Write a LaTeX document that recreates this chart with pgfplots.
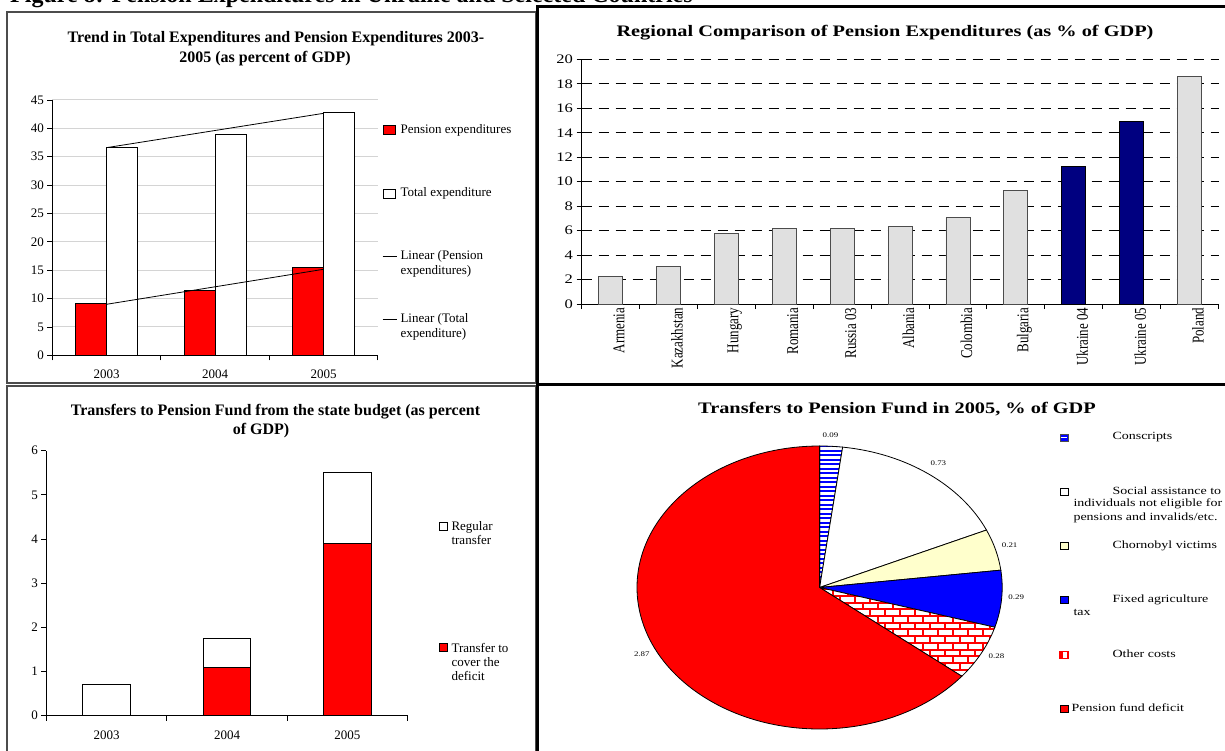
\documentclass[border=0pt]{standalone}
\usepackage{fontspec}
\setmainfont{Liberation Serif}
\usepackage{pgfplots}
\pgfplotsset{compat=1.18}
\usetikzlibrary{patterns}
\definecolor{barGray}{HTML}{E0E0E0}
\definecolor{navyB}{HTML}{000080}
\definecolor{lightYel}{HTML}{FFFFCC}
\definecolor{gridGray}{HTML}{D4D4D4}
\pgfdeclarepatternformonly{mystripes}{\pgfqpoint{-1pt}{-1pt}}{\pgfqpoint{5.5pt}{5.5pt}}{\pgfqpoint{4.5pt}{4.5pt}}{%
  \pgfsetlinewidth{2.3pt}%
  \pgfpathmoveto{\pgfqpoint{-1pt}{2.25pt}}\pgfpathlineto{\pgfqpoint{5.5pt}{2.25pt}}\pgfusepath{stroke}}
\pgfdeclarepatternformonly{mybricks}{\pgfqpoint{-1pt}{-1pt}}{\pgfqpoint{16pt}{14.4pt}}{\pgfqpoint{15pt}{13.4pt}}{%
  \pgfsetlinewidth{2pt}%
  \pgfpathmoveto{\pgfqpoint{-1pt}{0pt}}\pgfpathlineto{\pgfqpoint{16pt}{0pt}}%
  \pgfpathmoveto{\pgfqpoint{-1pt}{6.7pt}}\pgfpathlineto{\pgfqpoint{16pt}{6.7pt}}%
  \pgfpathmoveto{\pgfqpoint{0pt}{0pt}}\pgfpathlineto{\pgfqpoint{0pt}{6.7pt}}%
  \pgfpathmoveto{\pgfqpoint{7.5pt}{6.7pt}}\pgfpathlineto{\pgfqpoint{7.5pt}{13.4pt}}%
  \pgfusepath{stroke}}
\tikzset{
  pieA/.style={draw=black, line width=0.8pt, preaction={fill=white}, pattern=mystripes, pattern color=blue},
  pieB/.style={draw=black, line width=0.8pt, fill=white},
  pieC/.style={draw=black, line width=0.8pt, fill=lightYel},
  pieD/.style={draw=black, line width=0.8pt, fill=blue},
  pieE/.style={draw=black, line width=0.8pt, preaction={fill=white}, pattern=mybricks, pattern color=red},
  pieF/.style={draw=black, line width=0.8pt, fill=red},
}
\pgfplotsset{every axis/.append style={font=\fontsize{13}{15}\selectfont},
  /pgf/number format/assume math mode=true}
\newcommand{\sx}[1]{\scalebox{1.27}[1]{#1}}
\newcommand{\sy}[1]{\scalebox{1}[1.27]{#1}}
\begin{document}
\begin{tikzpicture}[x=1pt,y=1pt]
\useasboundingbox (0pt,0pt) rectangle (1225pt,750pt);
% heading (cut off at top)
\node[anchor=base west, inner sep=0, font=\bfseries\fontsize{24}{28}\selectfont] at (10pt,747pt) {Figure 8: Pension Expenditures in Ukraine and Selected Countries};
% frames
\draw[line width=1.2pt, black!70] (7pt,738pt) rectangle (536pt,367pt);
\draw[line width=1.2pt, black!70] (7pt,364pt) rectangle (536pt,-5pt);
\draw[line width=3pt] (1230pt,743.5pt) -- (537.5pt,743.5pt) -- (537.5pt,-5pt);
\draw[line width=3pt] (537.5pt,365.5pt) -- (1230pt,365.5pt);

% ---------------- Top-left ----------------
\node[font=\bfseries\fontsize{16}{20}\selectfont] at (276pt,711.7pt) {Trend in Total Expenditures and Pension Expenditures 2003-};
\node[font=\bfseries\fontsize{16}{20}\selectfont] at (265pt,691.7pt) {2005 (as percent of GDP)};
\begin{axis}[at={(52.3pt,394.7pt)}, anchor=south west, scale only axis,
  width=325.5pt, height=255.3pt,
  xmin=-0.5, xmax=2.5, ymin=0, ymax=45, ytick={0,5,...,45},
  xtick={-0.5,0.5,1.5,2.5}, xticklabels={},
  extra x ticks={0,1,2}, extra x tick labels={2003,2004,2005},
  extra x tick style={major tick length=0pt, xticklabel style={yshift=-11pt}},
  axis x line*=bottom, axis y line*=left,
  tick align=outside, major tick length=5pt,
  axis line style={black, line width=0.8pt}, tick style={black, line width=0.8pt},
  ymajorgrids, major grid style={gridGray, line width=1pt}]
\addplot[ybar, bar width=31pt, bar shift=-15.5pt, fill=red, draw=black, line width=0.8pt] coordinates {(0,9.2) (1,11.45) (2,15.45)};
\addplot[ybar, bar width=31pt, bar shift=15.5pt, fill=white, draw=black, line width=0.8pt] coordinates {(0,36.7) (1,38.9) (2,42.9)};
\addplot[black, sharp plot, no marks, line width=0.8pt] coordinates {(0,8.99) (2,15.16)};
\addplot[black, sharp plot, no marks, line width=0.8pt] coordinates {(0,36.6) (2,42.65)};
\end{axis}
\begin{scope}[font=\fontsize{13}{15}\selectfont]
\filldraw[fill=red, draw=black, line width=0.8pt] (383pt,615.3pt) rectangle (395pt,624.3pt);
\node[anchor=west] at (397pt,619.3pt) {Pension expenditures};
\filldraw[fill=white, draw=black, line width=0.8pt] (383pt,551.8pt) rectangle (395pt,560.8pt);
\node[anchor=west] at (397pt,556.3pt) {Total expenditure};
\draw[line width=0.8pt] (382.5pt,493.3pt) -- (396.5pt,493.3pt);
\node[anchor=west, align=left] at (397pt,485.8pt) {Linear (Pension\\expenditures)};
\draw[line width=0.8pt] (382.5pt,430.7pt) -- (396.5pt,430.7pt);
\node[anchor=west, align=left] at (397pt,423.2pt) {Linear (Total\\expenditure)};
\end{scope}

% ---------------- Top-right ----------------
\node[font=\bfseries\fontsize{16}{20}\selectfont] at (885pt,717.3pt) {\sx{Regional Comparison of Pension Expenditures (as \% of GDP)}};
\begin{axis}[at={(581.5pt,445.9pt)}, anchor=south west, scale only axis,
  width=637pt, height=244.8pt,
  xmin=-0.5, xmax=10.5, ymin=0, ymax=20, ytick={0,2,...,20},
  yticklabel={\sx{\pgfmathprintnumber{\tick}}},
  xtick={-0.5,0.5,...,10.5}, xticklabels={},
  extra x ticks={0,1,...,10},
  extra x tick labels={\sy{Armenia},\sy{Kazakhstan},\sy{Hungary},\sy{Romania},\sy{Russia 03},\sy{Albania},\sy{Colombia},\sy{Bulgaria},\sy{Ukraine 04},\sy{Ukraine 05},\sy{Poland}},
  extra x tick style={major tick length=0pt, xticklabel style={rotate=90, anchor=east, yshift=-8.5pt}},
  axis x line*=bottom, axis y line*=left,
  tick align=outside, major tick length=5pt,
  axis line style={black, line width=0.8pt}, tick style={black, line width=0.8pt},
  ymajorgrids, major grid style={black, line width=1.1pt, dash pattern=on 10pt off 7pt}]
\addplot[ybar, bar width=24pt, bar shift=0pt, fill=barGray, draw=black!70, line width=0.8pt] coordinates {(0,2.28) (1,3.05) (2,5.8) (3,6.19) (4,6.19) (5,6.33) (6,7.07) (7,9.27) (10,18.6)};
\addplot[ybar, bar width=24pt, bar shift=0pt, fill=navyB, draw=black, line width=0.8pt] coordinates {(8,11.28) (9,14.91)};
\end{axis}

% ---------------- Bottom-left ----------------
\node[font=\bfseries\fontsize{16}{20}\selectfont] at (275.5pt,338.3pt) {Transfers to Pension Fund from the state budget (as percent};
\node[font=\bfseries\fontsize{16}{20}\selectfont] at (261pt,319.3pt) {of GDP)};
\begin{axis}[at={(46.5pt,34.3pt)}, anchor=south west, scale only axis,
  width=361pt, height=265pt,
  xmin=-0.5, xmax=2.5, ymin=0, ymax=6, ytick={0,...,6},
  ybar stacked, bar width=47.6pt,
  xtick={-0.5,0.5,1.5,2.5}, xticklabels={},
  extra x ticks={0,1,2}, extra x tick labels={2003,2004,2005},
  extra x tick style={major tick length=0pt, xticklabel style={yshift=-12pt}},
  axis x line*=bottom, axis y line*=left,
  tick align=outside, major tick length=5pt,
  axis line style={black, line width=0.8pt}, tick style={black, line width=0.8pt}]
\addplot[fill=red, draw=black, line width=0.8pt] coordinates {(0,0) (1,1.1) (2,3.9)};
\addplot[fill=white, draw=black, line width=0.8pt] coordinates {(0,0.72) (1,0.65) (2,1.6)};
\end{axis}
\begin{scope}[font=\fontsize{13}{14}\selectfont]
\filldraw[fill=white, draw=black, line width=0.8pt] (439pt,219.3pt) rectangle (447pt,227.3pt);
\node[anchor=west, align=left] at (448pt,216.5pt) {Regular\\transfer};
\filldraw[fill=red, draw=black, line width=0.8pt] (439pt,98.3pt) rectangle (447pt,106.3pt);
\node[anchor=west, align=left] at (448pt,88.3pt) {Transfer to\\cover the\\deficit};
\end{scope}

% ---------------- Bottom-right (pie) ----------------
\node[font=\bfseries\fontsize{16}{20}\selectfont] at (897pt,341pt) {\sx{Transfers to Pension Fund in 2005, \% of GDP}};
\begin{scope}[shift={(819.6pt,162.5pt)}]
\gdef\cum{0}
\foreach \v/\sty in {0.09/pieA,0.73/pieB,0.21/pieC,0.29/pieD,0.28/pieE,2.87/pieF}{
  \pgfmathsetmacro\a{90-360*\cum/4.47}
  \pgfmathsetmacro\b{90-360*(\cum+\v)/4.47}
  \path[\sty] (0pt,0pt) -- (\a:182.6pt and 141.5pt) arc[start angle=\a, end angle=\b, x radius=182.6pt, y radius=141.5pt] -- cycle;
  \pgfmathsetmacro\c{\cum+\v}
  \xdef\cum{\c}
}
\end{scope}
\begin{scope}[font=\fontsize{7}{8}\selectfont]
\node at (830.5pt,314.3pt) {\sx{0.09}};
\node at (938.4pt,286.3pt) {\sx{0.73}};
\node at (1009.6pt,204.3pt) {\sx{0.21}};
\node at (1016.2pt,152.7pt) {\sx{0.29}};
\node at (996.5pt,93.3pt) {\sx{0.28}};
\node at (641.8pt,95.7pt) {\sx{2.87}};
\end{scope}
\begin{scope}[font=\fontsize{11}{12.7}\selectfont]
\filldraw[fill=blue, draw=black!70, line width=0.7pt] (1060pt,308.7pt) rectangle (1068pt,315.7pt);
\draw[white, line width=1.4pt] (1060.7pt,312.2pt) -- (1067.3pt,312.2pt);
\node[anchor=west] at (1109pt,313pt) {\sx{Conscripts\strut}};
\filldraw[fill=white, draw=black, line width=0.7pt] (1060pt,254.2pt) rectangle (1068pt,261.2pt);
\node[anchor=west] at (1109pt,258pt) {\sx{Social assistance to\strut}};
\node[anchor=west] at (1070pt,245.7pt) {\sx{individuals not eligible for\strut}};
\node[anchor=west] at (1070pt,232.3pt) {\sx{pensions and invalids/etc.\strut}};
\filldraw[fill=lightYel, draw=black, line width=0.7pt] (1060pt,200.2pt) rectangle (1068pt,207.2pt);
\node[anchor=west] at (1109pt,203.7pt) {\sx{Chornobyl victims\strut}};
\filldraw[fill=blue, draw=black, line width=0.7pt] (1060pt,146.2pt) rectangle (1068pt,153.2pt);
\node[anchor=west] at (1109pt,149.7pt) {\sx{Fixed agriculture\strut}};
\node[anchor=west] at (1070pt,136.7pt) {\sx{tax\strut}};
\filldraw[fill=white, draw=red, line width=1.2pt] (1060pt,91.5pt) rectangle (1068pt,98.5pt);
\fill[red] (1060pt,91.5pt) rectangle (1062.5pt,98.5pt);
\node[anchor=west] at (1109pt,95pt) {\sx{Other costs\strut}};
\filldraw[fill=red, draw=black, line width=0.7pt] (1060pt,37.5pt) rectangle (1068pt,44.5pt);
\node[anchor=west] at (1068pt,41pt) {\sx{Pension fund deficit\strut}};
\end{scope}
\end{tikzpicture}
\end{document}
